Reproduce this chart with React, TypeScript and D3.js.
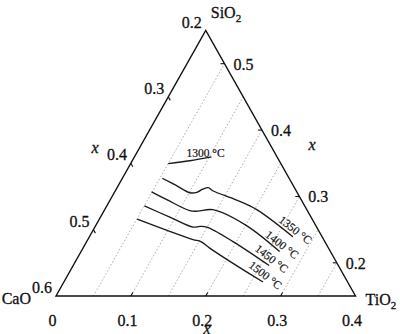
import React from "react";
import * as d3 from "d3";

// Axis values
const bottomTicks = [0, 0.1, 0.2, 0.3, 0.4]; // TiO2 along bottom edge
const leftTicks = [0.6, 0.5, 0.4, 0.3, 0.2]; // CaO along left edge
const rightTicks = [0.5, 0.4, 0.3, 0.2]; // right edge labels
const gridTiO2 = [0.05, 0.1, 0.15, 0.2, 0.25, 0.3, 0.35];

// Isotherms as [TiO2, SiO2]
const temps = ["1300 °C", "1350 °C", "1400 °C", "1450 °C", "1500 °C"];
const c1300: [number, number][] = [
  [0.05, 0.5995], [0.0768, 0.6038], [0.1029, 0.6095],
];
const c1350: [number, number][] = [
  [0.0533, 0.5774], [0.0765, 0.5669], [0.1009, 0.5556], [0.11, 0.5561],
  [0.1155, 0.5609], [0.1218, 0.5632], [0.13, 0.5586], [0.1691, 0.5444],
  [0.203, 0.5301], [0.2718, 0.4892],
];
const c1400: [number, number][] = [
  [0.0492, 0.5568], [0.0754, 0.5451], [0.1144, 0.5286], [0.1254, 0.5278],
  [0.1443, 0.5301], [0.2, 0.5068], [0.2652, 0.4669],
];
const c1450: [number, number][] = [
  [0.0501, 0.5358], [0.0926, 0.5188], [0.1312, 0.5038], [0.1396, 0.5048],
  [0.1495, 0.5038], [0.1954, 0.482], [0.2617, 0.4459],
];
const c1500: [number, number][] = [
  [0.0505, 0.5158], [0.098, 0.4992], [0.1406, 0.485], [0.1524, 0.482],
  [0.1692, 0.4722], [0.2118, 0.4492], [0.2659, 0.4211],
];
const curves = [c1300, c1350, c1400, c1450, c1500];

const FONT = '"Liberation Serif", "Times New Roman", serif';
const ts = { fontFamily: FONT };
const INK = "#111";

export default function App() {
  const xs = d3.scaleLinear().domain([0, 1]).range([56, 355.5]);
  const ys = d3.scaleLinear().domain([0, 1]).range([296, 30.5]);
  const uS = d3.scaleLinear().domain([0.4, 0.8]).range([0, 1]); // SiO2
  const vS = d3.scaleLinear().domain([0, 0.4]).range([0, 1]); // TiO2
  const proj = (t: number, s: number): [number, number] => {
    const u = uS(s);
    const v = vS(t);
    return [xs(v + u / 2), ys(u)];
  };

  const A = proj(0, 0.4); // CaO corner
  const B = proj(0.4, 0.4); // TiO2 corner
  const C = proj(0, 0.8); // SiO2 corner

  const line = d3
    .line<[number, number]>()
    .x((d) => proj(d[0], d[1])[0])
    .y((d) => proj(d[0], d[1])[1])
    .curve(d3.curveCatmullRom.alpha(0.5));

  const len = Math.hypot(C[0] - A[0], C[1] - A[1]);
  const upRight = [(C[0] - A[0]) / len, (C[1] - A[1]) / len];
  const downRight = [(B[0] - C[0]) / len, (B[1] - C[1]) / len];
  const tk = 4;
  const txt = { fill: INK, stroke: INK, strokeWidth: 0.3, style: ts } as any;

  return (
    <svg
      width={400}
      height={334}
      style={{ position: "absolute", left: 0, top: 0, background: "#fff", fontFamily: FONT }}
    >
      <rect width={400} height={334} fill="#fff" />
      {gridTiO2.map((t) => {
        const p0 = proj(t, 0.4);
        const p1 = proj(t, 0.8 - t);
        return (
          <line key={"g" + t} x1={p0[0]} y1={p0[1]} x2={p1[0]} y2={p1[1]}
            stroke="#a0a0a0" strokeWidth={0.9} strokeDasharray="1.5 2" />
        );
      })}
      <path d={`M${A[0]},${A[1]}L${B[0]},${B[1]}L${C[0]},${C[1]}Z`} fill="none" stroke={INK} strokeWidth={1.4} />
      {bottomTicks.map((t) => {
        const p = proj(t, 0.4);
        return (
          <g key={"b" + t}>
            {t > 0 && t < 0.4 && (
              <line x1={p[0]} y1={p[1]} x2={p[0] + upRight[0] * tk} y2={p[1] + upRight[1] * tk}
                stroke={INK} strokeWidth={1.1} />
            )}
            <text x={p[0] - 3.5} y={325.5} fontSize={16} textAnchor="middle" {...txt}>
              {t === 0 ? "0" : String(t)}
            </text>
          </g>
        );
      })}
      {leftTicks.map((c) => {
        const p = proj(0, 1 - c);
        return (
          <g key={"l" + c}>
            {c < 0.6 && c > 0.2 && (
              <line x1={p[0]} y1={p[1]} x2={p[0] + downRight[0] * tk} y2={p[1] + downRight[1] * tk}
                stroke={INK} strokeWidth={1.1} />
            )}
            <text x={p[0] - 4} y={p[1] - 3} fontSize={16} textAnchor="end" {...txt}>
              {String(c)}
            </text>
          </g>
        );
      })}
      {rightTicks.map((r) => {
        const t = 0.55 - r;
        const p = proj(t, 0.8 - t);
        return (
          <g key={"r" + r}>
            <line x1={p[0]} y1={p[1]} x2={p[0] - tk} y2={p[1]} stroke={INK} strokeWidth={1.1} />
            <text x={p[0] + 9} y={p[1] + 6} fontSize={16} textAnchor="start" {...txt}>
              {String(r)}
            </text>
          </g>
        );
      })}
      <text x={207} y={334} fontSize={16} fontStyle="italic" textAnchor="middle" {...txt}>x</text>
      <text x={95} y={153} fontSize={16} fontStyle="italic" textAnchor="middle" {...txt}>x</text>
      <text x={312} y={150} fontSize={16} fontStyle="italic" textAnchor="middle" {...txt}>x</text>
      <text x={A[0] - 25} y={304} fontSize={16} textAnchor="end" {...txt}>CaO</text>
      <text x={B[0] + 10} y={305} fontSize={16} {...txt}>
        TiO<tspan fontSize={11} dy={4}>2</tspan>
      </text>
      <text x={C[0] + 5} y={18} fontSize={16} {...txt}>
        SiO<tspan fontSize={11} dy={4}>2</tspan>
      </text>
      {curves.map((c, i) => (
        <path key={"c" + i} d={line(c) || ""} fill="none" stroke="#1a1a1a" strokeWidth={1.35} />
      ))}
      {curves.map((c, i) => {
        const e = proj(c[c.length - 1][0], c[c.length - 1][1]);
        if (i === 0) {
          return (
            <text key={"t" + i} x={e[0] - 25} y={e[1] + 0.5} fontSize={11.5} {...txt} strokeWidth={0.2}>
              {temps[i]}
            </text>
          );
        }
        const x = e[0] - 15;
        const y = e[1] - 15.5;
        return (
          <text key={"t" + i} x={x} y={y} fontSize={11.5} {...txt} strokeWidth={0.2}
            transform={`rotate(38 ${x} ${y})`}>
            {temps[i]}
          </text>
        );
      })}
    </svg>
  );
}
